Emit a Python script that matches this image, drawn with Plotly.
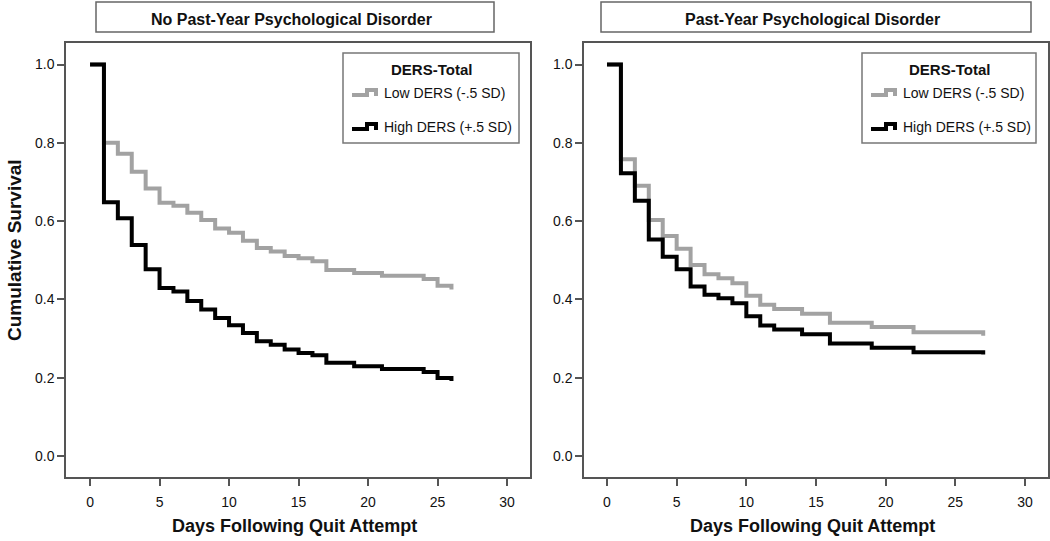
import plotly.graph_objects as go

# ---------------- data ----------------
panel_titles = ["No Past-Year Psychological Disorder", "Past-Year Psychological Disorder"]
series_names = ["Low DERS (-.5 SD)", "High DERS (+.5 SD)"]
legend_title = "DERS-Total"
x_title = "Days Following Quit Attempt"
y_title = "Cumulative Survival"
x_ticks = [0, 5, 10, 15, 20, 25, 30]
y_ticks = [0.0, 0.2, 0.4, 0.6, 0.8, 1.0]

left_days = [0, 1, 2, 3, 4, 5, 6, 7, 8, 9, 10, 11, 12, 13, 14, 15, 16, 17, 19, 21, 24, 25, 26]
left_low = [1.0, 0.80, 0.772, 0.726, 0.683, 0.647, 0.639, 0.621, 0.603, 0.581, 0.570, 0.550,
            0.531, 0.522, 0.511, 0.505, 0.497, 0.475, 0.467, 0.460, 0.452, 0.435, 0.425]
left_high = [1.0, 0.648, 0.607, 0.539, 0.477, 0.429, 0.420, 0.396, 0.374, 0.352, 0.334, 0.314,
             0.293, 0.284, 0.272, 0.263, 0.257, 0.238, 0.229, 0.222, 0.214, 0.199, 0.191]

right_days = [0, 1, 2, 3, 4, 5, 6, 7, 8, 9, 10, 11, 12, 14, 16, 19, 22, 27]
right_low = [1.0, 0.758, 0.690, 0.603, 0.562, 0.529, 0.488, 0.464, 0.454, 0.441, 0.409, 0.386,
             0.375, 0.363, 0.340, 0.329, 0.316, 0.307]
right_high = [1.0, 0.722, 0.652, 0.553, 0.509, 0.477, 0.433, 0.412, 0.403, 0.390, 0.357, 0.333,
              0.323, 0.311, 0.287, 0.276, 0.265, 0.259]

# ---------------- style ----------------
W, H = 1050, 541
GRAY = "#a2a2a2"
BLACK = "#000000"
FRAME = "#555555"
FONT = "Liberation Sans, Arial, sans-serif"


def px(x):
    return x / W


def py(y):
    return 1 - y / H


fig = go.Figure()

panels = [
    dict(days=left_days, low=left_low, high=left_high, xa="x", ya="y",
         dom=(66, 530), tbox=(96, 494), lbox=(343, 519), center=294),
    dict(days=right_days, low=right_low, high=right_high, xa="x2", ya="y2",
         dom=(584, 1048), tbox=(601, 1031), lbox=(862, 1036), center=812),
]

for p in panels:
    fig.add_trace(go.Scatter(x=p["days"], y=p["low"], mode="lines", line=dict(shape="hv", color=GRAY, width=4),
                             name=series_names[0], xaxis=p["xa"], yaxis=p["ya"], showlegend=False, hoverinfo="skip"))
    fig.add_trace(go.Scatter(x=p["days"], y=p["high"], mode="lines", line=dict(shape="hv", color=BLACK, width=4),
                             name=series_names[1], xaxis=p["xa"], yaxis=p["ya"], showlegend=False, hoverinfo="skip"))

axis_common = dict(showgrid=False, zeroline=False, showline=True, mirror=True, linecolor=FRAME, linewidth=1.5,
                   ticks="outside", ticklen=7, tickwidth=1.5, tickcolor=FRAME,
                   tickfont=dict(family=FONT, size=14, color="#111"))

y_top, y_bot = 43, 477
ydom = [py(y_bot), py(y_top)]
layout = dict(
    width=W, height=H, margin=dict(l=0, r=0, t=0, b=0),
    paper_bgcolor="white", plot_bgcolor="white", showlegend=False,
    xaxis=dict(domain=[px(66), px(530)], range=[-1.73, 31.65], tickvals=x_ticks, anchor="y",
               ticklabelstandoff=4, **axis_common),
    yaxis=dict(domain=ydom, range=[-0.054, 1.055], tickvals=y_ticks, tickformat=".1f", anchor="x", **axis_common),
    xaxis2=dict(domain=[px(584), px(1048)], range=[-1.65, 31.65], tickvals=x_ticks, anchor="y2",
                ticklabelstandoff=4, **axis_common),
    yaxis2=dict(domain=ydom, range=[-0.054, 1.055], tickvals=y_ticks, tickformat=".1f", anchor="x2", **axis_common),
)
fig.update_layout(**layout)

shapes = []
annotations = []
for i, p in enumerate(panels):
    # title box
    x0, x1 = p["tbox"]
    shapes.append(dict(type="rect", xref="paper", yref="paper", x0=px(x0), x1=px(x1), y0=py(32), y1=py(2),
                       line=dict(color="#666", width=1.5)))
    annotations.append(dict(xref="paper", yref="paper", x=px((x0 + x1) / 2 - 4), y=py(19), text="<b>%s</b>" % panel_titles[i],
                            showarrow=False, font=dict(family=FONT, size=16, color="#111"), xanchor="center", yanchor="middle"))
    # legend box
    lx0, lx1 = p["lbox"]
    shapes.append(dict(type="rect", xref="paper", yref="paper", x0=px(lx0), x1=px(lx1), y0=py(143), y1=py(53),
                       line=dict(color="#777", width=1.5), fillcolor="white", layer="below"))
    annotations.append(dict(xref="paper", yref="paper", x=px((lx0 + lx1) / 2), y=py(69), text="<b>%s</b>" % legend_title,
                            showarrow=False, font=dict(family=FONT, size=15, color="#111"), xanchor="center", yanchor="middle"))
    for j, (name, col, yy) in enumerate([(series_names[0], GRAY, 93), (series_names[1], BLACK, 127)]):
        ix = lx0 + 9
        path = "M %f,%f L %f,%f L %f,%f L %f,%f L %f,%f" % (
            px(ix), py(yy + 2), px(ix + 15), py(yy + 2), px(ix + 15), py(yy - 3),
            px(ix + 24), py(yy - 3), px(ix + 24), py(yy + 3))
        shapes.append(dict(type="path", xref="paper", yref="paper", path=path, line=dict(color=col, width=4)))
        annotations.append(dict(xref="paper", yref="paper", x=px(ix + 30), y=py(yy), text=name, showarrow=False,
                                font=dict(family=FONT, size=14, color="#111"), xanchor="left", yanchor="middle"))
    # x axis title
    annotations.append(dict(xref="paper", yref="paper", x=px(p["center"]), y=py(526), text="<b>%s</b>" % x_title,
                            showarrow=False, font=dict(family=FONT, size=18, color="#111"), xanchor="center", yanchor="middle"))

annotations.append(dict(xref="paper", yref="paper", x=px(14), y=py(250), text="<b>%s</b>" % y_title, textangle=-90,
                        showarrow=False, font=dict(family=FONT, size=19, color="#111"), xanchor="center", yanchor="middle"))

fig.update_layout(shapes=shapes, annotations=annotations)
fig.write_html("out.html", config={"displayModeBar": False},
               post_script="document.body.style.margin='0';document.body.style.overflow='hidden';")
